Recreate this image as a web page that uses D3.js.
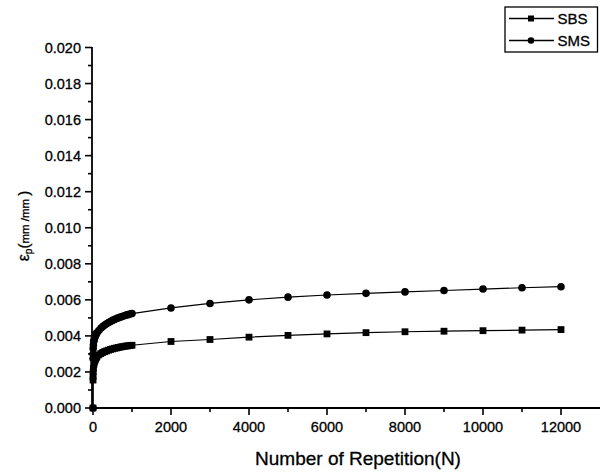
<!DOCTYPE html>
<html>
<head>
<meta charset="utf-8">
<script src="https://cdn.jsdelivr.net/npm/d3@7"></script>
<style>
  html, body { margin: 0; padding: 0; background: #fff; }
  svg { display: block; font-family: "Liberation Sans", Arial, sans-serif; }
  svg text { stroke: #000; stroke-width: 0.3px; }
</style>
</head>
<body>
<svg id="chart" width="600" height="472"></svg>
<script>
// Number of load repetitions
const repetitions = [0, 1, 2, 5, 10, 20, 30, 40, 50, 60, 70, 80, 90, 100,
  150, 200, 250, 300, 350, 400, 450, 500, 550, 600, 650, 700, 750, 800, 850, 900, 950, 1000,
  2000, 3000, 4000, 5000, 6000, 7000, 8000, 9000, 10000, 11000, 12000];

// Permanent strain (mm/mm)
const sbsStrain = [0, 0.00155, 0.00175, 0.0020, 0.0022, 0.0024, 0.0025, 0.0026, 0.00265, 0.0027, 0.00275, 0.0028, 0.00283, 0.00286,
  0.00295, 0.00302, 0.00308, 0.00313, 0.00317, 0.00321, 0.00325, 0.00328, 0.00331, 0.00333, 0.00336, 0.00338, 0.00340, 0.00342, 0.00344, 0.00345, 0.00347, 0.00348,
  0.00369, 0.00380, 0.00393, 0.00403, 0.00411, 0.00418, 0.00423, 0.00426, 0.00429, 0.00432, 0.00435];

const smsStrain = [0, 0.00275, 0.0030, 0.0033, 0.0035, 0.0037, 0.0038, 0.0039, 0.00395, 0.0040, 0.00405, 0.0041, 0.00413, 0.00417,
  0.0043, 0.00442, 0.00452, 0.0046, 0.00467, 0.00474, 0.0048, 0.00486, 0.00491, 0.00496, 0.0050, 0.00504, 0.00508, 0.00512, 0.00515, 0.00518, 0.00521, 0.00524,
  0.00555, 0.00580, 0.00600, 0.00615, 0.00627, 0.00636, 0.00644, 0.00652, 0.00660, 0.00667, 0.00673];

const seriesNames = ["SBS", "SMS"];
const xTicks = [0, 2000, 4000, 6000, 8000, 10000, 12000];
const yTicks = [0, 0.002, 0.004, 0.006, 0.008, 0.010, 0.012, 0.014, 0.016, 0.018, 0.020];

const svg = d3.select("#chart");

const x = d3.scaleLinear().domain([0, 13000]).range([93, 600]);
const y = d3.scaleLinear().domain([0, 0.020]).range([408, 47.5]);

// Minor ticks halfway between the labelled ones
const xMinor = d3.range(1000, 13000, 2000);
const yMinor = d3.range(0.001, 0.020, 0.002);

// X axis
const xAxis = svg.append("g").attr("transform", "translate(0,408)");
xAxis.append("line").attr("x1", 92).attr("x2", 600).attr("y1", 0).attr("y2", 0)
  .attr("stroke", "#000").attr("stroke-width", 1.8);
xAxis.selectAll("line.major").data(xTicks).join("line").attr("class", "major")
  .attr("x1", d => x(d)).attr("x2", d => x(d)).attr("y1", 0).attr("y2", 7)
  .attr("stroke", "#000").attr("stroke-width", 1.6);
xAxis.selectAll("line.minor").data(xMinor).join("line").attr("class", "minor")
  .attr("x1", d => x(d)).attr("x2", d => x(d)).attr("y1", 0).attr("y2", 4)
  .attr("stroke", "#000").attr("stroke-width", 1.6);
xAxis.selectAll("text").data(xTicks).join("text")
  .attr("x", d => x(d)).attr("y", 23.5)
  .attr("text-anchor", "middle").attr("font-size", 14.5).attr("fill", "#000")
  .text(d => d3.format("d")(d));

// Y axis
const yAxis = svg.append("g").attr("transform", "translate(92,0)");
yAxis.append("line").attr("x1", 0).attr("x2", 0).attr("y1", 409).attr("y2", 47)
  .attr("stroke", "#000").attr("stroke-width", 1.8);
yAxis.selectAll("line.major").data(yTicks).join("line").attr("class", "major")
  .attr("x1", -7).attr("x2", 0).attr("y1", d => y(d)).attr("y2", d => y(d))
  .attr("stroke", "#000").attr("stroke-width", 1.6);
yAxis.selectAll("line.minor").data(yMinor).join("line").attr("class", "minor")
  .attr("x1", -4).attr("x2", 0).attr("y1", d => y(d)).attr("y2", d => y(d))
  .attr("stroke", "#000").attr("stroke-width", 1.6);
yAxis.selectAll("text").data(yTicks).join("text")
  .attr("x", -11).attr("y", d => y(d) + 5)
  .attr("text-anchor", "end").attr("font-size", 14.5).attr("fill", "#000")
  .text(d => d3.format(".3f")(d));

// Axis titles
svg.append("text").attr("x", 358).attr("y", 465).attr("text-anchor", "middle")
  .attr("font-size", 19).attr("fill", "#000").text("Number of Repetition(N)");

const yTitle = svg.append("text")
  .attr("transform", "translate(29,226) rotate(-90)")
  .attr("text-anchor", "middle").attr("fill", "#000");
yTitle.append("tspan").attr("font-size", 16).text("ε");
yTitle.append("tspan").attr("font-size", 10).attr("dy", 3).text("p");
yTitle.append("tspan").attr("font-size", 15).attr("dy", -3).text("(");
yTitle.append("tspan").attr("font-size", 11.5).text("mm /mm ");
yTitle.append("tspan").attr("font-size", 15).text(")");

// Series
const line = d3.line().x(d => x(d[0])).y(d => y(d[1]));
const sbsData = repetitions.map((n, i) => [n, sbsStrain[i]]);
const smsData = repetitions.map((n, i) => [n, smsStrain[i]]);

const plot = svg.append("g");
plot.append("path").datum(sbsData).attr("d", line)
  .attr("fill", "none").attr("stroke", "#000").attr("stroke-width", 1.2);
plot.append("path").datum(smsData).attr("d", line)
  .attr("fill", "none").attr("stroke", "#000").attr("stroke-width", 1.2);

const sq = 6.8;
plot.selectAll("rect.sbs").data(sbsData).join("rect").attr("class", "sbs")
  .attr("x", d => x(d[0]) - sq / 2).attr("y", d => y(d[1]) - sq / 2)
  .attr("width", sq).attr("height", sq).attr("fill", "#000");
plot.selectAll("circle.sms").data(smsData).join("circle").attr("class", "sms")
  .attr("cx", d => x(d[0])).attr("cy", d => y(d[1])).attr("r", 3.8).attr("fill", "#000");

// Legend
const legend = svg.append("g");
legend.append("rect").attr("x", 505).attr("y", 7).attr("width", 92.5).attr("height", 45)
  .attr("fill", "#fff").attr("stroke", "#000").attr("stroke-width", 1.3);
seriesNames.forEach((name, i) => {
  const ly = 18.5 + i * 22;
  legend.append("line").attr("x1", 509).attr("x2", 554).attr("y1", ly).attr("y2", ly)
    .attr("stroke", "#000").attr("stroke-width", 1.3);
  if (i === 0) {
    legend.append("rect").attr("x", 531 - 3).attr("y", ly - 3).attr("width", 6).attr("height", 6).attr("fill", "#000");
  } else {
    legend.append("circle").attr("cx", 531).attr("cy", ly).attr("r", 3.3).attr("fill", "#000");
  }
  legend.append("text").attr("x", 557.5).attr("y", ly + 5.5).attr("font-size", 15)
    .attr("fill", "#000").text(name);
});
</script>
</body>
</html>
